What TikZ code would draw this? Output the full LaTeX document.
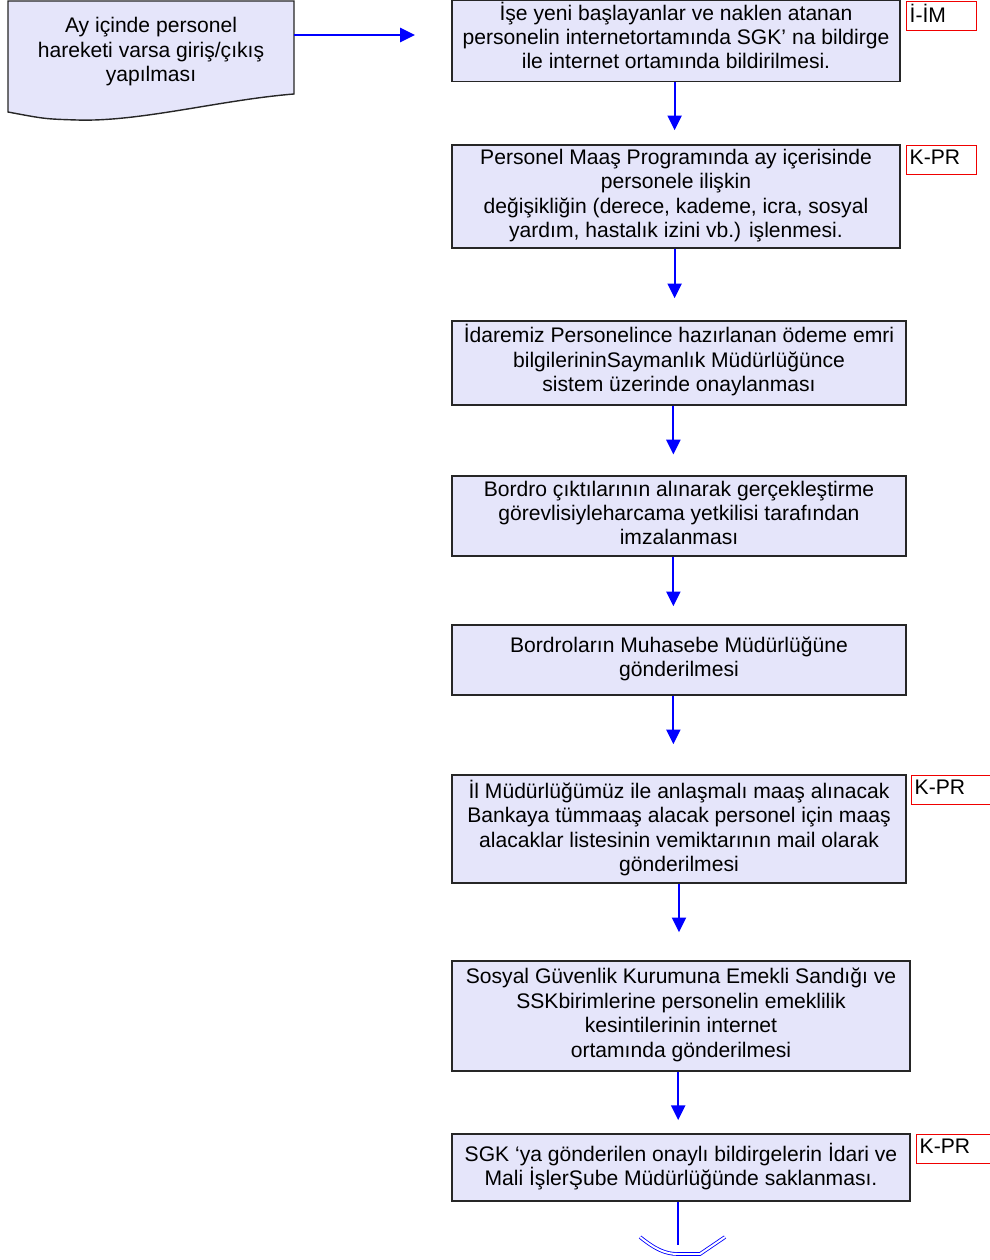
\documentclass[tikz,border=0pt]{standalone}
\usepackage{fontspec}
\setmainfont{Liberation Sans}
\usetikzlibrary{arrows.meta}
\definecolor{kutu}{RGB}{229,229,250}
\definecolor{ok}{RGB}{0,0,255}
\definecolor{etiket}{RGB}{240,0,0}
\begin{document}
\begin{tikzpicture}[
    x=0.025cm, y=-0.025cm,
    adim/.style={rectangle, draw=black!85, line width=1pt, fill=kutu, minimum width=11.2cm, align=center, inner sep=1pt, text depth=4.5pt, font=\fontsize{15}{17.4}\selectfont},
    etiketbox/.style={rectangle, draw=etiket, line width=1pt, fill=white, anchor=north west, minimum width=1.75cm, minimum height=0.72cm, text width=1.6cm, align=left, inner xsep=2pt, inner ysep=0pt, text depth=4pt, font=\fontsize{15}{17.4}\selectfont},
    akis/.style={-{Triangle[width=10pt, length=10.5pt]}, ok, line width=1.4pt}
]
    \useasboundingbox (0,0) rectangle (989,1260);

    % Belge
    \filldraw[draw=black!85, line width=1pt, fill=kutu] (8,1) -- (294,1) -- (294,94)
        .. controls (220,100) and (140,122) .. (77,120) .. controls (45,119) .. (8,112) -- cycle;
    \node[minimum width=7.15cm, align=center, font=\fontsize{15}{17.4}\selectfont] (giris) at (151,52) {
        Ay içinde personel\\
        hareketi varsa giriş/çıkış\\
        yapılması
    };
    \coordinate (girisok) at (415,35);

    % Adimlar
    \node[adim, minimum height=2cm, text depth=8pt] (ise) at (676,41) {
        İşe yeni başlayanlar ve naklen atanan\\
        personelin internetortamında SGK’ na bildirge\\
        ile internet ortamında bildirilmesi.
    };
    \node[adim, minimum height=2.575cm] (maas) at (676,196.5) {
        Personel Maaş Programında ay içerisinde\\
        personele ilişkin\\
        değişikliğin (derece, kademe, icra, sosyal\\
        yardım, hastalık izini vb.) işlenmesi.
    };
    \node[adim, minimum width=11.35cm, minimum height=2.1cm, text depth=7pt] (onay) at (679,363) {
        İdaremiz Personelince hazırlanan ödeme emri\\
        bilgilerininSaymanlık Müdürlüğünce\\
        sistem üzerinde onaylanması
    };
    \node[adim, minimum width=11.35cm, minimum height=2cm] (bordro) at (679,516) {
        Bordro çıktılarının alınarak gerçekleştirme\\
        görevlisiyleharcama yetkilisi tarafından\\
        imzalanması
    };
    \node[adim, minimum width=11.35cm, minimum height=1.75cm] (muhasebe) at (679,660) {
        Bordroların Muhasebe Müdürlüğüne\\
        gönderilmesi
    };
    \node[adim, minimum width=11.35cm, minimum height=2.7cm] (banka) at (679,829) {
        İl Müdürlüğümüz ile anlaşmalı maaş alınacak\\
        Bankaya tümmaaş alacak personel için maaş\\
        alacaklar listesinin vemiktarının mail olarak\\
        gönderilmesi
    };
    \node[adim, minimum width=11.45cm, minimum height=2.75cm] (sgk) at (681,1016) {
        Sosyal Güvenlik Kurumuna Emekli Sandığı ve\\
        SSKbirimlerine personelin emeklilik\\
        kesintilerinin internet\\
        ortamında gönderilmesi
    };
    \node[adim, minimum width=11.45cm, minimum height=1.675cm] (sakla) at (681,1167.5) {
        SGK ‘ya gönderilen onaylı bildirgelerin İdari ve\\
        Mali İşlerŞube Müdürlüğünde saklanması.
    };

    % Etiketler
    \node[etiketbox] (e1) at (906,1) {İ-İM};
    \node[etiketbox] (e2) at (906,145) {K-PR};
    \node[etiketbox, minimum width=2.2cm, text width=2.05cm] (e6) at (911,775) {K-PR};
    \node[etiketbox, minimum width=2.2cm, text width=2.05cm] (e8) at (916,1134) {K-PR};

    % Oklar
    \draw[akis] (giris.east |- girisok) -- (girisok);
    \draw[akis, shorten >=0.35cm] ([xshift=-1]ise.south) -- ([xshift=-1]ise.south |- maas.north);
    \draw[akis, shorten >=0.55cm] ([xshift=-1]maas.south) -- ([xshift=-1]maas.south |- onay.north);
    \draw[akis, shorten >=0.52cm] ([xshift=-4]onay.south) -- ([xshift=-4]onay.south |- bordro.north);
    \draw[akis, shorten >=0.45cm] ([xshift=-4]bordro.south) -- ([xshift=-4]bordro.south |- muhasebe.north);
    \draw[akis, shorten >=0.75cm] ([xshift=-4]muhasebe.south) -- ([xshift=-4]muhasebe.south |- banka.north);
    \draw[akis, shorten >=0.7cm] (banka.south) -- (banka.south |- sgk.north);
    \draw[akis, shorten >=0.33cm] ([xshift=-2]sgk.south) -- ([xshift=-2]sgk.south |- sakla.north);

    % Sayfa baglantisi
    \coordinate (son) at (678,1245);
    \draw[ok, line width=1.2pt] (sakla.south -| son) -- (son);
    \draw[ok, double=white, double distance=1.4pt, line width=0.6pt]
        (640,1237) .. controls (655,1249) and (665,1254) .. (678,1254) -- (700,1254) -- (725,1237);
\end{tikzpicture}
\end{document}
